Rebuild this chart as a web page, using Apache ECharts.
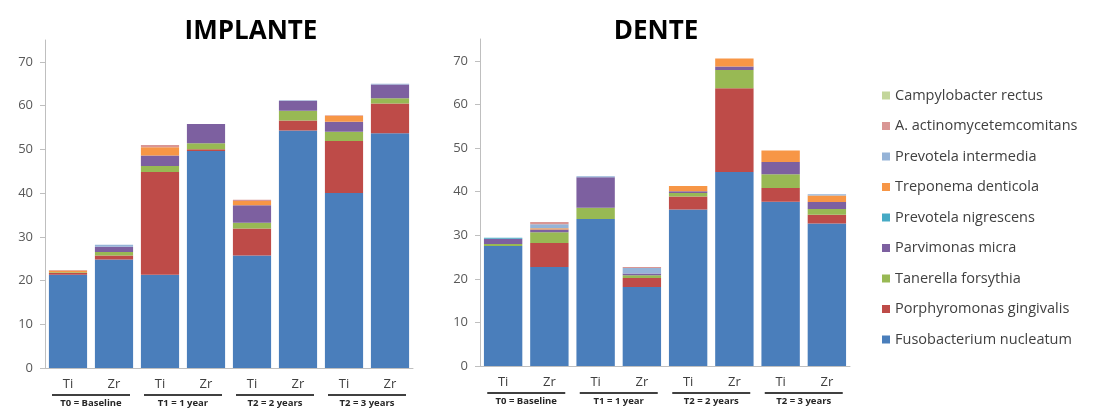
<!DOCTYPE html>
<html><head><meta charset="utf-8">
<script src="https://cdn.jsdelivr.net/npm/echarts@6/dist/echarts.min.js"></script>
<style>html,body{margin:0;padding:0;background:#fff}#c{width:1101px;height:412px}</style>
</head><body><div id="c"></div>
<script>
const categories = ['Ti','Zr','Ti','Zr','Ti','Zr','Ti','Zr'];
const groups = ['T0 = Baseline','T1 = 1 year','T2 = 2 years','T2 = 3 years'];
const yTicks = [0,10,20,30,40,50,60,70];
const species = ['Fusobacterium nucleatum','Porphyromonas gingivalis','Tanerella forsythia','Parvimonas micra','Prevotela nigrescens','Treponema denticola','Prevotela intermedia','A. actinomycetemcomitans','Campylobacter rectus'];
const colors = ['#4a7ebb','#be4b48','#98b954','#7d60a0','#46aac5','#f79646','#95b3d7','#d99694','#c3d69b'];

// IMPLANTE
const impFuso   = [21.3, 24.8, 21.3, 49.6, 25.7, 54.3, 40.0, 53.7];
const impPorph  = [0.4, 0.9, 23.5, 0.4, 6.2, 2.3, 11.9, 6.8];
const impTan    = [0.2, 0.8, 1.4, 1.4, 1.3, 2.2, 2.1, 1.2];
const impParv   = [0, 1.2, 2.4, 4.4, 4.0, 2.3, 2.3, 3.1];
const impNig    = [0, 0, 0, 0, 0, 0, 0, 0];
const impTrep   = [0.4, 0, 1.9, 0, 1.0, 0, 1.4, 0];
const impInterm = [0, 0.5, 0, 0, 0, 0.1, 0, 0.2];
const impActino = [0.1, 0, 0.5, 0, 0.3, 0, 0.1, 0];
const impCampy  = [0, 0, 0, 0, 0, 0, 0, 0];

// DENTE
const denFuso   = [27.5, 22.7, 33.7, 18.1, 35.9, 44.5, 37.7, 32.7];
const denPorph  = [0, 5.5, 0, 2.1, 3.0, 19.2, 3.1, 2.0];
const denTan    = [0.5, 2.5, 2.6, 0.6, 0.8, 4.2, 3.2, 1.3];
const denParv   = [1.2, 0.6, 7.0, 0.4, 0.4, 0.8, 2.8, 1.6];
const denNig    = [0.2, 0, 0, 0, 0, 0, 0, 0];
const denTrep   = [0, 0.3, 0, 0, 1.2, 1.8, 2.6, 1.5];
const denInterm = [0, 0.9, 0.2, 1.3, 0, 0, 0, 0.3];
const denActino = [0, 0.5, 0, 0.2, 0, 0, 0, 0];
const denCampy  = [0, 0, 0, 0, 0, 0, 0, 0];

const impData = [impFuso, impPorph, impTan, impParv, impNig, impTrep, impInterm, impActino, impCampy];
const denData = [denFuso, denPorph, denTan, denParv, denNig, denTrep, denInterm, denActino, denCampy];

const FONT = '"Open Sans", sans-serif';
const axisGray = '#bfbfbf';

function yAxis(gi) {
  return {
    type: 'value', gridIndex: gi, min: 0, max: 75, interval: 5,
    splitLine: { show: false },
    axisLine: { show: true, lineStyle: { color: axisGray } },
    axisTick: { show: true, length: 5, lineStyle: { color: axisGray }, customValues: yTicks },
    axisLabel: { color: '#595959', fontSize: 13, fontFamily: FONT, margin: 12, customValues: yTicks }
  };
}
function xAxis(gi) {
  return {
    type: 'category', gridIndex: gi, data: categories,
    axisLine: { lineStyle: { color: axisGray } },
    axisTick: { length: 5, lineStyle: { color: axisGray } },
    axisLabel: { color: '#404040', fontSize: 13, fontFamily: FONT, margin: 10 }
  };
}
function groupAxis(gi) {
  return {
    type: 'category', gridIndex: gi, data: groups, position: 'bottom',
    axisLine: { show: false }, axisTick: { show: false },
    axisLabel: {
      margin: 26, interval: 0,
      formatter: v => '{l| }\n{t|' + v + '}',
      rich: {
        l: { width: 78, height: 2, lineHeight: 2, fontSize: 1, backgroundColor: '#404040' },
        t: { fontSize: 9.5, fontWeight: 'bold', fontFamily: FONT, color: '#262626', lineHeight: 13, padding: [2, 0, 0, 0] }
      }
    }
  };
}

const series = [];
species.forEach((name, i) => {
  series.push({ name, type: 'bar', stack: 'imp', xAxisIndex: 0, yAxisIndex: 0, data: impData[i], barCategoryGap: '17%', itemStyle: { color: colors[i] } });
  series.push({ name, type: 'bar', stack: 'den', xAxisIndex: 1, yAxisIndex: 1, data: denData[i], barCategoryGap: '17%', itemStyle: { color: colors[i] } });
});

const chart = echarts.init(document.getElementById('c'), null, { renderer: 'canvas' });
chart.setOption({
  animation: false,
  backgroundColor: '#fff',
  textStyle: { fontFamily: FONT },
  title: [
    { text: 'IMPLANTE', left: 246, top: 14, textAlign: 'center', textStyle: { fontSize: 26, fontWeight: 'bold', color: '#000', fontFamily: FONT } },
    { text: 'DENTE', left: 651, top: 14, textAlign: 'center', textStyle: { fontSize: 26, fontWeight: 'bold', color: '#000', fontFamily: FONT } }
  ],
  legend: {
    orient: 'vertical', left: 877, top: 82,
    data: species.slice().reverse(),
    icon: 'rect', itemWidth: 8, itemHeight: 8, itemGap: 13.5, itemTextGap: 6,
    textStyle: { fontSize: 14.5, color: '#404040', fontFamily: FONT, lineHeight: 17 }
  },
  grid: [
    { left: 45, width: 368, top: 40, bottom: 44 },
    { left: 480, width: 370, top: 39, bottom: 46 }
  ],
  xAxis: [xAxis(0), xAxis(1), groupAxis(0), groupAxis(1)],
  yAxis: [yAxis(0), yAxis(1)],
  series
});
</script></body></html>
